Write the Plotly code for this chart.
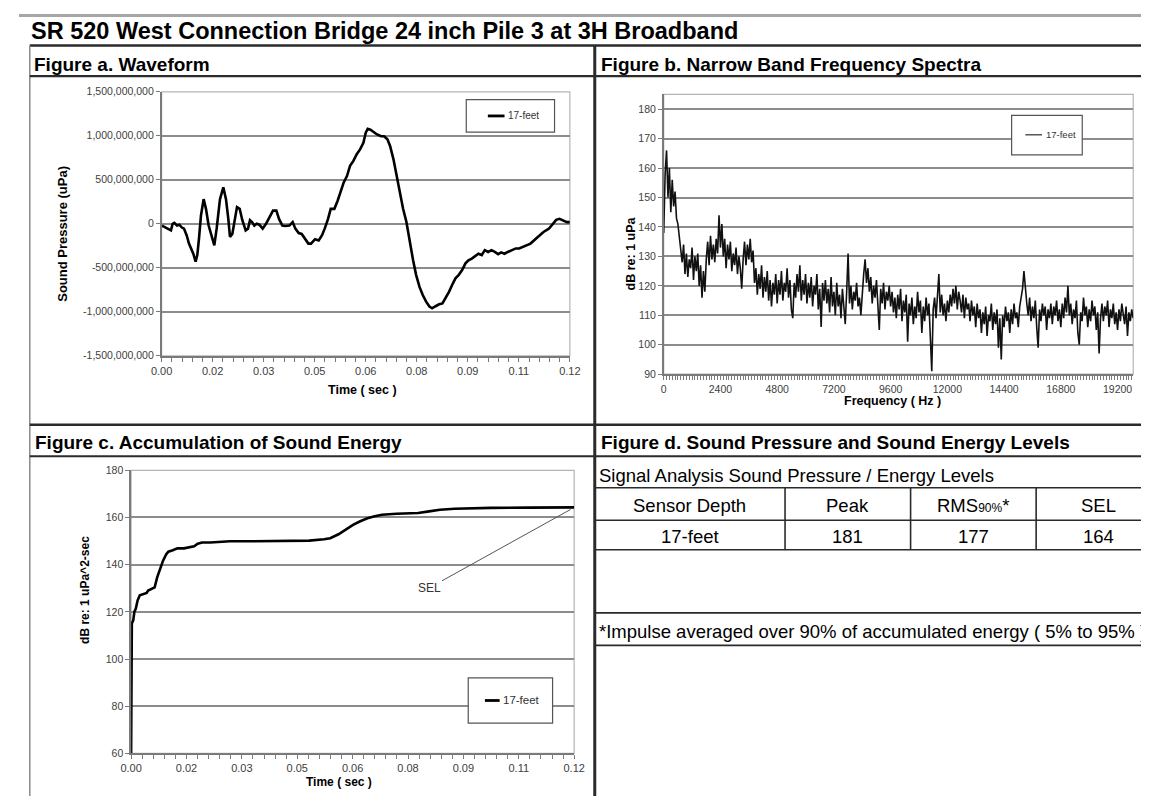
import plotly.graph_objects as go

W, H = 1149, 796
FONT = "Liberation Sans, Arial, Helvetica, sans-serif"

SERIES_NAME = "17-feet"

# Figure a. Waveform: time (sec) and sound pressure (millions of uPa)
wave_time = [
    0.0001, 0.0009, 0.0018, 0.0028, 0.0033, 0.0038, 0.0046, 0.0053, 0.0060, 0.0067,
    0.0075, 0.0082, 0.0089, 0.0095, 0.0102, 0.0107, 0.0112, 0.0118, 0.0126, 0.0133,
    0.0141, 0.0151, 0.0158, 0.0165, 0.0175, 0.0185, 0.0193, 0.0200, 0.0205, 0.0212,
    0.0219, 0.0226, 0.0234, 0.0242, 0.0252, 0.0259, 0.0265, 0.0271, 0.0278, 0.0285,
    0.0293, 0.0303, 0.0313, 0.0324, 0.0334, 0.0344, 0.0352, 0.0362, 0.0371, 0.0383,
    0.0393, 0.0401, 0.0411, 0.0420, 0.0430, 0.0440, 0.0448, 0.0460, 0.0471, 0.0481,
    0.0489, 0.0499, 0.0507, 0.0518, 0.0528, 0.0538, 0.0546, 0.0556, 0.0565, 0.0575,
    0.0585, 0.0595, 0.0605, 0.0612, 0.0618, 0.0626, 0.0636, 0.0646, 0.0658, 0.0667,
    0.0677, 0.0685, 0.0695, 0.0705, 0.0714, 0.0724, 0.0734, 0.0744, 0.0754, 0.0763,
    0.0773, 0.0783, 0.0793, 0.0803, 0.0811, 0.0820, 0.0832, 0.0842, 0.0852, 0.0862,
    0.0871, 0.0881, 0.0891, 0.0901, 0.0911, 0.0920, 0.0930, 0.0940, 0.0950, 0.0960,
    0.0969, 0.0979, 0.0989, 0.0999, 0.1009, 0.1018, 0.1028, 0.1038, 0.1048, 0.1062,
    0.1072, 0.1084, 0.1106, 0.1128, 0.1145, 0.1161, 0.1172, 0.1183, 0.1193, 0.1205,
    0.1215, 0.1224,
]
wave_pressure_m = [
    -20, -40, -55, -75, 0, 10, -20, -10, -40, -55,
    -130, -225, -280, -340, -430, -355, -170, 95, 280, 170,
    -20, -170, -245, -55, 280, 415, 280, 55, -150, -115,
    55, 190, 170, 40, -75, -55, 40, 20, -20, 0,
    -10, -55, 0, 75, 150, 150, 55, -20, -25, -20,
    20, -55, -105, -115, -175, -225, -225, -175, -190, -130,
    -55, 55, 170, 170, 265, 395, 470, 545, 660, 715,
    790, 845, 920, 1035, 1080, 1070, 1040, 1015, 995, 995,
    960, 885, 735, 545, 355, 170, 20, -205, -415, -580,
    -715, -810, -885, -940, -960, -940, -915, -905, -845, -770,
    -695, -620, -580, -525, -450, -415, -395, -365, -340, -355,
    -300, -320, -300, -320, -345, -325, -340, -320, -300, -280,
    -280, -262, -225, -150, -93, -56, 0, 45, 56, 37,
    19, 19,
]

# Figure b. Narrow band spectrum: dB re 1 uPa per 60 Hz bin
spectrum_step_hz = 60
spectrum_db = [
    138, 158, 166, 150, 160, 145, 156, 147, 152, 143,
    141, 136, 133, 128, 134, 124, 131, 123, 129, 126,
    133, 122, 130, 125, 131, 120, 127, 116, 125, 118,
    129, 135, 127, 137, 129, 134, 128, 136, 131, 144,
    133, 141, 130, 136, 126, 134, 129, 135, 125, 131,
    127, 133, 124, 130, 126, 119, 129, 135, 127, 134,
    129, 136, 128, 132, 121, 126, 117, 124, 119, 127,
    116, 123, 118, 125, 115, 122, 113, 121, 117, 124,
    114, 122, 117, 125, 115, 121, 118, 126, 116, 122,
    112, 109, 121, 116, 124, 118, 127, 115, 122, 117,
    124, 114, 121, 116, 123, 113, 120, 117, 124, 112,
    119, 106, 121, 115, 122, 114, 119, 111, 123, 113,
    118, 110, 121, 113, 117, 109, 119, 112, 107, 118,
    131, 114, 120, 112, 118, 115, 121, 113, 116, 110,
    119, 124, 129, 121, 126, 118, 123, 114, 120, 116,
    122, 113, 105, 119, 114, 121, 112, 118, 115, 120,
    113, 118, 111, 116, 109, 117, 112, 119, 108, 115,
    111, 117, 101, 114, 110, 116, 107, 113, 109, 118,
    111, 115, 104, 113, 108, 116, 110, 114, 102, 91,
    112, 116, 109, 115, 124, 111, 117, 110, 114, 108,
    115, 111, 117, 113, 119, 114, 120, 112, 118, 115,
    111, 117, 109, 116, 112, 114, 108, 115, 110, 113,
    106, 114, 109, 112, 104, 111, 107, 113, 103, 110,
    108, 114, 105, 111, 107, 112, 99, 109, 95, 110,
    106, 113, 108, 111, 104, 112, 107, 114, 109, 111,
    106, 113, 116, 119, 125, 118, 114, 110, 116, 108,
    113, 109, 115, 106, 99, 112, 108, 114, 110, 113,
    105, 112, 109, 114, 107, 113, 110, 115, 108, 112,
    106, 114, 109, 116, 111, 120, 110, 114, 107, 112,
    109, 115, 104, 100, 111, 108, 116, 110, 113, 106,
    112, 108, 115, 110, 113, 105, 111, 97, 109, 114,
    108, 113, 110, 115, 106, 112, 109, 114, 107, 111,
    105, 112, 108, 114, 110, 107, 113, 103, 111, 108,
    112, 109,
]
spectrum_freq = [spectrum_step_hz * i for i in range(len(spectrum_db))]

# Figure c. Accumulated sound energy (dB re 1 uPa^2-sec)
accum_time = [
    0.0, 0.0, 0.0002, 0.0006, 0.0009, 0.0013, 0.0018, 0.0024, 0.0034, 0.0043,
    0.0047, 0.0058, 0.0065, 0.0072, 0.0079, 0.0088, 0.0097, 0.0103, 0.0115, 0.0128,
    0.0146, 0.0164, 0.0174, 0.0184, 0.0196, 0.0219, 0.0246, 0.0273, 0.0309, 0.0345,
    0.0381, 0.0420, 0.0452, 0.0492, 0.0533, 0.0550, 0.0573, 0.0593, 0.0613, 0.0633,
    0.0653, 0.0673, 0.0693, 0.0733, 0.0773, 0.0793, 0.0823, 0.0853, 0.0894, 0.0943,
    0.0994, 0.1094, 0.1224,
]
accum_db = [
    60.0, 105.3, 115.1, 116.5, 120.0, 121.4, 124.9, 127.0, 127.4, 128.0,
    129.0, 129.8, 130.4, 134.6, 138.1, 141.6, 144.4, 145.5, 146.1, 146.9,
    146.9, 147.5, 147.8, 148.9, 149.4, 149.4, 149.7, 149.9, 149.9, 149.9,
    149.9, 149.9, 150.0, 150.2, 150.8, 151.2, 152.9, 154.9, 156.9, 158.4,
    159.7, 160.5, 161.2, 161.6, 161.6, 161.9, 162.6, 163.3, 163.7, 164.0,
    164.1, 164.2, 164.3,
]

time_tick_step = 0.0153
time_tick_labels = ["0.00", "0.02", "0.03", "0.05", "0.06", "0.08", "0.09", "0.11", "0.12"]
pressure_ticks = [-1.5e9, -1.0e9, -5e8, 0, 5e8, 1.0e9, 1.5e9]
pressure_tick_labels = ["-1,500,000,000", "-1,000,000,000", "-500,000,000", "0",
                        "500,000,000", "1,000,000,000", "1,500,000,000"]

table_title = "Signal Analysis Sound Pressure / Energy Levels"
table_header = ["Sensor Depth", "Peak", "RMS<span style='font-size:12px'>90%</span>*", "SEL"]
table_row = ["17-feet", "181", "177", "164"]
footnote = "*Impulse averaged over 90% of accumulated energy ( 5% to 95% )"


def X(px):
    return px / W


def Y(py):
    return 1 - py / H


GRID = "#8c8c8c"
AXIS = "#7a7a7a"
DARK = "#2b2b2b"

fig = go.Figure()
fig.add_trace(go.Scatter(x=wave_time, y=[v * 1e6 for v in wave_pressure_m], name=SERIES_NAME,
                         mode="lines", line=dict(color="black", width=2.6),
                         xaxis="x", yaxis="y", showlegend=False))
fig.add_trace(go.Scatter(x=spectrum_freq, y=spectrum_db, name=SERIES_NAME,
                         mode="lines", line=dict(color="#111111", width=1.6),
                         xaxis="x2", yaxis="y2", showlegend=False))
fig.add_trace(go.Scatter(x=accum_time, y=accum_db, name=SERIES_NAME,
                         mode="lines", line=dict(color="black", width=2.6),
                         xaxis="x3", yaxis="y3", showlegend=False))

time_ticks = [time_tick_step * i for i in range(len(time_tick_labels))]


def time_axis(x0, x1, anchor, size):
    return dict(domain=[X(x0), X(x1)], anchor=anchor, range=[0, time_ticks[-1]],
                tickmode="array", tickvals=time_ticks, ticktext=time_tick_labels,
                showgrid=False, zeroline=False, showline=True, linecolor=AXIS, linewidth=1.5,
                ticks="outside", ticklen=4, tickcolor=AXIS,
                minor=dict(tickmode="linear", tick0=0, dtick=time_tick_step / 5,
                           ticks="outside", ticklen=4, tickcolor=AXIS, showgrid=False),
                tickfont=dict(family=FONT, size=size, color="#404040"))


def value_axis(y0, y1, anchor, rng, size, **kw):
    d = dict(domain=[Y(y1), Y(y0)], anchor=anchor, range=rng,
             showgrid=True, gridcolor=GRID, gridwidth=1.6, zeroline=False,
             showline=True, linecolor=AXIS, linewidth=1.5,
             ticks="outside", ticklen=4, tickcolor=AXIS,
             tickfont=dict(family=FONT, size=size, color="#404040"))
    d.update(kw)
    return d


# plot rectangles (pixels)
A = (145.4, 79, 561.6, 347)
B = (657.3, 81.7, 1136, 365.7)
C = (114.3, 463.3, 566, 750.7)

fig.update_layout(
    width=W, height=H, margin=dict(l=0, r=0, t=0, b=0),
    paper_bgcolor="white", plot_bgcolor="white", showlegend=False,
    xaxis=time_axis(A[0], A[2], "y", 11),
    yaxis=value_axis(A[1], A[3], "x", [-1.5e9, 1.5e9], 10.5,
                     tickmode="array", tickvals=pressure_ticks, ticktext=pressure_tick_labels),
    xaxis2=dict(domain=[X(B[0]), X(B[2])], anchor="y2", range=[0, 19864],
                tick0=0, dtick=2400, tickformat="d",
                showgrid=False, zeroline=False, showline=True, linecolor=AXIS, linewidth=1.5,
                ticks="outside", ticklen=4, tickcolor=AXIS,
                minor=dict(tickmode="linear", tick0=0, dtick=120, ticks="outside",
                           ticklen=4, tickcolor=AXIS, showgrid=False),
                tickfont=dict(family=FONT, size=10.5, color="#404040")),
    yaxis2=value_axis(B[1], B[3], "x2", [90, 185], 10.5, tick0=90, dtick=10),
    xaxis3=time_axis(C[0], C[2], "y3", 11),
    yaxis3=value_axis(C[1], C[3], "x3", [60, 180], 10.5, tick0=60, dtick=20),
)

shapes = []


def hline(y, x0, x1, width=2, color=DARK):
    shapes.append(dict(type="line", xref="paper", yref="paper", x0=X(x0), x1=X(x1),
                       y0=Y(y), y1=Y(y), line=dict(color=color, width=width)))


def vline(x, y0, y1, width=2, color=DARK):
    shapes.append(dict(type="line", xref="paper", yref="paper", x0=X(x), x1=X(x),
                       y0=Y(y0), y1=Y(y1), line=dict(color=color, width=width)))


def rect(x0, y0, x1, y1, color, width=1):
    shapes.append(dict(type="rect", xref="paper", yref="paper", x0=X(x0), x1=X(x1),
                       y0=Y(y1), y1=Y(y0), line=dict(color=color, width=width), layer="below"))


# panel frame
hline(1.5, 0, W, 3, "#a6a6a6")
hline(32, 11, W, 2.6)
vline(11, 32, H, 1.5, "#8a8a8a")
vline(587, 32, H, 3)
hline(63, 11, W, 2.2)
hline(417, 11, W, 2.6)
hline(449, 11, W, 2)

# table lines
col_edges = [587, 781, 909, 1037, 1165]
for yy in (481, 514, 544, 608, 641):
    hline(yy, 587, W, 1.6)
for xx in col_edges[1:4]:
    vline(xx, 481, 544, 1.6)

# chart plot-area borders
for r in (A, B, C):
    rect(r[0], r[1], r[2], r[3], "#b5b5b5", 1.2)

# legend boxes
legends = [
    ((456, 87, 546, 120), (478, 495), 103.5, 2.8, 10),
    ((1012, 103, 1084, 143), (1026, 1043), 122.7, 1.0, 9.5),
    ((458, 674, 544, 720), (475, 490), 697, 2.8, 11.5),
]
annotations = []
for (x0, y0, x1, y1), (lx0, lx1), ly, lw, fs in legends:
    shapes.append(dict(type="rect", xref="paper", yref="paper", x0=X(x0), x1=X(x1),
                       y0=Y(y1), y1=Y(y0), line=dict(color="#555555", width=1.2),
                       fillcolor="white", layer="above"))
    shapes.append(dict(type="line", xref="paper", yref="paper", x0=X(lx0), x1=X(lx1),
                       y0=Y(ly), y1=Y(ly), line=dict(color="black", width=lw)))
    annotations.append(dict(x=X(lx1 + 1.5), y=Y(ly), xref="paper", yref="paper",
                            text=SERIES_NAME, showarrow=False, xanchor="left", yanchor="middle",
                            font=dict(family=FONT, size=fs, color="#333333")))


def label(text, x, y, size, bold=False, anchor="left", angle=0, color="black"):
    annotations.append(dict(x=X(x), y=Y(y), xref="paper", yref="paper", text=text,
                            showarrow=False, xanchor=anchor if angle == 0 else "center",
                            yanchor="middle", textangle=angle,
                            font=dict(family=FONT, size=size, color=color,
                                      weight="bold" if bold else "normal")))


label("SR 520 West Connection Bridge 24 inch Pile 3 at 3H Broadband", 10, 17, 23.5, True)
label("Figure a. Waveform", 13, 51, 19, True)
label("Figure b. Narrow Band Frequency Spectra", 591, 51, 19, True)
label("Figure c. Accumulation of Sound Energy", 14, 435, 19, True)
label("Figure d. Sound Pressure and Sound Energy Levels", 591, 435, 19, True)
label(table_title, 589, 469, 18.5)
for i, (hd, val) in enumerate(zip(table_header, table_row)):
    cx = (col_edges[i] + col_edges[i + 1]) / 2
    label(hd, cx, 499, 18.5, anchor="center")
    label(val, cx, 531, 18.5, anchor="center")
label(footnote, 589, 627, 18.5)

# axis titles
label("Sound Pressure (uPa)", 44, 223, 13, True, angle=-90)
label("Time ( sec )", 350, 382, 12.5, True, anchor="center")
label("dB re: 1 uPa", 624, 243, 12.5, True, angle=-90)
label("Frequency ( Hz )", 891, 393, 12.5, True, anchor="center")
label("dB re: 1 uPa^2-sec", 67, 585, 12, True, angle=-90)
label("Time ( sec )", 326, 780, 12, True, anchor="center")

# SEL callout on the accumulation curve
annotations.append(dict(x=0.1214, y=163.4, xref="x3", yref="y3",
                        ax=0.0823, ay=130.1, axref="x3", ayref="y3",
                        text="SEL", showarrow=True, arrowhead=0, arrowwidth=1,
                        arrowcolor="#555555", standoff=0,
                        font=dict(family=FONT, size=12, color="#333333")))

fig.update_layout(shapes=shapes, annotations=annotations)
fig.write_html("out.html")
